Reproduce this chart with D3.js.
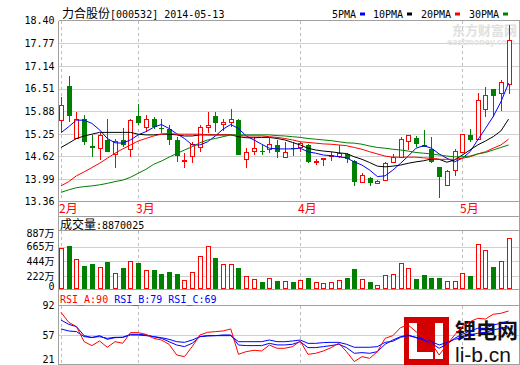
<!DOCTYPE html>
<html>
<head>
<meta charset="utf-8">
<script src="https://cdnjs.cloudflare.com/ajax/libs/d3/7.8.5/d3.min.js"></script>
<style>
  body { margin: 0; background: #fff; }
  svg { display: block; font-family: "DejaVu Sans Mono", "Noto Sans CJK SC", monospace; font-size: 10px; }
  .cjk { font-family: "Noto Sans CJK SC", sans-serif; font-size: 12px; }
</style>
</head>
<body>
<svg id="chart" width="520" height="365"></svg>
<script>
// 力合股份 [000532] daily K-line, 2014-02-17 .. 2014-05-13
const openPx  = [15.63,16.58,15.12,15.65,14.91,14.85,15.08,14.68,15.08,14.82, 15.75,15.43,15.65,15.42,15.38,15.08,14.47,14.63,14.87,15.44,
                 15.75,15.52,15.56,15.63,14.54,14.77,14.78,14.80,14.94,14.58, 14.86,14.87,14.94,14.46,14.54,14.61,14.63,14.68,14.49,13.89,
                 14.03,13.87,13.96,14.46,14.58,15.05,15.12,14.94,14.82,14.32, 13.82,14.24,14.72,15.22,15.10,15.93,16.50,16.38,16.61];
const highPx  = [16.28,16.86,15.87,15.77,15.22,15.26,15.65,15.10,15.40,15.65, 16.08,15.77,15.71,15.65,15.50,15.16,14.72,15.03,15.50,15.87,
                 15.87,15.65,15.94,15.65,14.85,15.15,14.94,15.12,15.08,15.03, 15.03,15.02,14.96,14.54,14.58,14.75,14.94,14.72,14.52,14.15,
                 14.05,13.96,14.46,14.69,15.15,15.22,15.18,15.36,15.15,14.32, 14.24,14.83,15.25,15.38,16.38,16.54,16.50,16.75,18.28];
const lowPx   = [15.31,15.59,15.10,14.94,14.61,14.52,14.75,14.29,14.89,14.60, 15.50,15.31,15.38,15.26,14.94,14.47,14.29,14.43,14.75,15.28,
                 15.31,15.34,15.43,14.66,14.29,14.66,14.66,14.71,14.58,14.57, 14.63,14.75,14.45,14.38,14.35,14.49,14.57,14.45,13.81,13.87,
                 13.81,13.84,13.95,14.45,14.57,14.80,14.89,14.88,14.45,13.47, 13.80,14.08,14.71,15.03,15.10,15.71,15.73,15.88,16.35];
const closePx = [16.03,15.75,15.65,15.03,14.85,15.19,14.75,15.03,14.94,15.61, 15.56,15.65,15.43,15.38,15.08,14.63,14.52,14.94,15.43,15.47,
                 15.56,15.56,15.65,14.66,14.74,14.85,14.77,14.96,14.75,14.74, 14.85,14.99,14.47,14.48,14.57,14.66,14.71,14.54,13.92,14.08,
                 13.89,13.92,14.43,14.58,15.10,15.19,14.96,14.89,14.47,14.06, 14.21,14.75,15.22,15.08,16.19,16.31,16.31,16.68,17.84];

const ma5  = [15.28,15.45,15.63,15.63,15.54,15.36,15.12,15.00,14.99,15.08, 15.22,15.31,15.43,15.51,15.40,15.25,15.12,14.94,14.94,15.03,
              15.19,15.38,15.51,15.40,15.19,15.08,14.96,14.85,14.83,14.83, 14.83,14.85,14.75,14.71,14.66,14.64,14.61,14.58,14.47,14.38,
              14.24,14.06,14.08,14.24,14.43,14.63,14.85,14.92,14.85,14.69, 14.57,14.47,14.57,14.75,15.08,15.40,15.73,16.14,16.66];
const ma10 = [14.87,14.99,15.12,15.19,15.24,15.29,15.29,15.29,15.29,15.29, 15.24,15.22,15.22,15.24,15.24,15.22,15.19,15.19,15.22,15.22,
              15.22,15.22,15.22,15.17,15.14,15.14,15.15,15.15,15.12,15.08, 15.01,14.94,14.85,14.80,14.77,14.75,14.72,14.70,14.61,14.54,
              14.45,14.35,14.33,14.35,14.38,14.43,14.47,14.50,14.55,14.54, 14.46,14.52,14.66,14.80,14.94,15.05,15.17,15.33,15.66];
const ma20 = [13.80,13.92,14.08,14.19,14.31,14.43,14.57,14.71,14.83,14.94, 15.05,15.12,15.19,15.24,15.26,15.24,15.24,15.24,15.24,15.22,
              15.22,15.22,15.22,15.20,15.19,15.19,15.19,15.17,15.15,15.12, 15.08,15.03,15.01,14.99,14.97,14.96,14.94,14.92,14.87,14.82,
              14.75,14.69,14.63,14.60,14.60,14.60,14.60,14.58,14.57,14.54, 14.54,14.54,14.57,14.61,14.69,14.75,14.85,14.94,15.10];
const ma30 = [13.62,13.69,13.75,13.78,13.80,13.83,13.87,13.92,13.96,14.04, 14.15,14.26,14.40,14.49,14.60,14.70,14.80,14.89,15.00,15.08,
              15.12,15.17,15.22,15.22,15.22,15.22,15.22,15.22,15.20,15.19, 15.17,15.15,15.12,15.10,15.08,15.06,15.03,15.00,14.99,14.96,
              14.91,14.87,14.85,14.82,14.80,14.77,14.73,14.71,14.69,14.66, 14.63,14.61,14.61,14.63,14.69,14.73,14.80,14.87,14.94];

// volume in 万股
const volume = [640,675,473,371,397,352,428,261,341,443, 417,300,306,246,276,246,149,276,518,670,
                493,397,397,341,205,170,129,185,144,144, 129,159,190,124,99,124,159,190,326,170,
                129,83,220,250,402,326,174,235,190,190, 129,129,265,224,690,599,361,447,796];

const rsiA = [84.1,72.1,67.0,49.0,44.3,49.8,42.3,49.0,47.1,59.8, 59.8,57.8,53.0,51.0,45.9,33.1,31.1,43.1,57.0,60.2,
              61.0,61.8,64.2,33.9,37.1,38.7,37.9,45.0,41.1,41.1, 43.1,49.8,33.9,35.1,37.9,41.9,47.1,37.1,25.2,31.1,
              29.1,37.1,53.0,56.2,65.8,68.9,61.0,53.8,47.0,33.1, 45.1,57.0,67.0,72.9,76.9,76.1,81.7,82.9,85.7];
const rsiB = [74.9,69.7,67.0,56.2,53.8,56.2,51.8,53.8,54.2,57.8, 57.8,57.0,55.0,53.0,49.0,45.0,43.1,47.1,55.0,56.2,
              56.2,57.0,57.0,45.0,44.3,44.3,44.3,47.0,45.1,45.1, 45.9,49.0,41.9,41.9,43.1,44.3,45.9,41.9,35.1,35.9,
              35.1,37.1,45.9,51.0,55.0,57.0,53.8,51.0,47.0,41.1, 45.9,53.0,57.8,61.8,65.0,65.0,69.0,70.9,73.7];
const rsiC = [64.2,61.8,61.0,55.0,54.2,55.0,53.0,54.2,54.2,57.0, 57.0,56.2,55.0,53.8,51.8,49.0,48.2,51.0,55.0,55.8,
              56.2,56.2,56.2,49.0,49.0,49.0,49.0,51.0,49.0,49.0, 49.8,51.0,47.0,47.0,47.9,48.2,48.2,45.9,42.3,42.3,
              42.3,43.1,48.2,49.5,54.2,56.2,54.2,52.2,49.0,45.1, 47.9,51.8,53.8,57.0,59.0,60.2,63.0,65.0,67.0];

const priceTicks = [13.36,13.99,14.62,15.25,15.88,16.51,17.14,17.77,18.40];
const volTicks = [0,221.75,443.5,665.25,887];
const volTickLabels = ['0','222万','444万','665万','887万'];
const rsiTicks = [21,57,92];
const monthLabels = ['2月','3月','4月','5月'];
const monthStart = [0,10,31,52];

const maNames = ['5PMA','10PMA','20PMA','30PMA'];
const maColors = ['#0000ff','#000000','#ff0000','#008000'];
const UP = '#ff0000', DOWN = '#008000';

const svg = d3.select('#chart');
const L = 58.5, R = 519.5;
const main = {top: 20.5, bottom: 201.5};
const vol = {top: 216.5, head: 230.5, bottom: 289.5};
const rsi = {head: 305.5, bottom: 364.5};

const n = openPx.length;
const x = d3.scalePoint().domain(d3.range(n)).range([61, 508.6]);
const col = i => Math.round(x(i));
const yP = d3.scaleLinear().domain([13.36, 18.40]).range([201.7, 20.7]);
const yV = d3.scaleLinear().domain([0, 887]).range([290.5, 232]);
const yR = d3.scaleLinear().domain([21, 92]).range([365.1, 305.7]);

// ---- grid
const grid = svg.append('g').attr('stroke', '#cfcfcf').attr('shape-rendering', 'crispEdges');
grid.selectAll('.gp').data(priceTicks.slice(1, -1)).join('line')
  .attr('x1', L).attr('x2', R).attr('y1', d => Math.round(yP(d)) + 0.5).attr('y2', d => Math.round(yP(d)) + 0.5);
grid.selectAll('.gv').data(volTicks.slice(1, -1)).join('line')
  .attr('x1', L).attr('x2', R).attr('y1', d => Math.round(yV(d)) + 0.5).attr('y2', d => Math.round(yV(d)) + 0.5);
grid.append('line').attr('x1', L).attr('x2', R).attr('y1', Math.round(yR(57)) + 0.5).attr('y2', Math.round(yR(57)) + 0.5);

// month separators
const dash = svg.append('g').attr('stroke', '#bdbdbd').attr('stroke-dasharray', '3,3').attr('shape-rendering', 'crispEdges');
[[main.top, main.bottom], [vol.head, vol.bottom], [rsi.head, rsi.bottom]].forEach(([a, b]) => {
  dash.selectAll(null).data(monthStart).join('line')
    .attr('x1', d => col(d) + 0.5).attr('x2', d => col(d) + 0.5).attr('y1', a).attr('y2', b);
});

// ---- frames
const frame = svg.append('g').attr('stroke', '#a0a0a0').attr('fill', 'none').attr('shape-rendering', 'crispEdges');
frame.append('line').attr('x1', L).attr('x2', L).attr('y1', main.top).attr('y2', 365);
frame.append('line').attr('x1', R).attr('x2', R).attr('y1', main.top).attr('y2', 365);
[main.top, main.bottom, vol.top, vol.head, vol.bottom, rsi.head, rsi.bottom].forEach(y =>
  frame.append('line').attr('x1', L).attr('x2', R).attr('y1', y).attr('y2', y));

// ---- axes labels
const axP = svg.append('g').attr('transform', `translate(${L},0)`)
  .call(d3.axisLeft(yP).tickValues(priceTicks).tickFormat(d3.format('.2f')).tickSize(0).tickPadding(4));
axP.select('.domain').remove();
const axV = svg.append('g').attr('transform', `translate(${L},0)`)
  .call(d3.axisLeft(yV).tickValues(volTicks).tickFormat((d, i) => volTickLabels[i]).tickSize(0).tickPadding(4));
axV.select('.domain').remove();
axV.selectAll('.tick').filter(d => d === 0).attr('transform', 'translate(0,286.5)');
axV.selectAll('.tick').filter(d => d === 887).attr('transform', 'translate(0,233.5)');
const axR = svg.append('g').attr('transform', `translate(${L},0)`)
  .call(d3.axisLeft(yR).tickValues(rsiTicks).tickSize(0).tickPadding(4));
axR.select('.domain').remove();
axR.selectAll('.tick').filter(d => d === 21).attr('transform', 'translate(0,359.5)');
svg.selectAll('.tick text').attr('fill', '#000');
[axP, axV, axR].forEach(a => a.attr('font-family', null).attr('font-size', null));

// month labels
svg.selectAll('.month').data(monthStart).join('text')
  .attr('x', d => col(d) - 2).attr('y', 213)
  .attr('fill', '#ff0000').attr('class', 'cjk')
  .text((d, i) => monthLabels[i]);

// ---- title + legend
const title = svg.append('text').attr('x', 62).attr('y', 18);
title.append('tspan').attr('class', 'cjk').text('力合股份');
title.append('tspan').text('[000532] 2014-05-13');

const legX = [332, 373, 421, 469];
maNames.forEach((m, i) => {
  svg.append('text').attr('x', legX[i]).attr('y', 18).text(m);
  svg.append('rect').attr('x', legX[i] + m.length * 6 + 4).attr('y', 12.5).attr('width', 5).attr('height', 3)
    .attr('fill', maColors[i]);
});

// watermark top right
svg.append('text').attr('x', 452).attr('y', 35).style('font-family', '"Noto Sans CJK SC"').style('font-size', '13px')
  .attr('font-weight', 'bold').attr('fill', '#e0e0e0').text('东方财富网');
svg.append('text').attr('x', 447).attr('y', 45).style('font-family', '"DejaVu Sans"').style('font-size', '8px')
  .attr('textLength', 68).attr('font-weight', 'bold').attr('fill', '#e4e4e4').text('eastmoney.com');

// ---- candles
const cg = svg.append('g').attr('shape-rendering', 'crispEdges');
d3.range(n).forEach(i => {
  const c = col(i);
  const up = closePx[i] >= openPx[i];
  const yT = yP(Math.max(openPx[i], closePx[i]));
  const yB = yP(Math.min(openPx[i], closePx[i]));
  const h = Math.max(yB - yT, 1.5);
  if (up) {
    cg.append('line').attr('x1', c + 0.5).attr('x2', c + 0.5).attr('y1', yP(highPx[i])).attr('y2', yT).attr('stroke', UP);
    cg.append('line').attr('x1', c + 0.5).attr('x2', c + 0.5).attr('y1', yT + h).attr('y2', yP(lowPx[i])).attr('stroke', UP);
    cg.append('rect').attr('x', c - 1.5).attr('y', yT).attr('width', 4).attr('height', h)
      .attr('fill', '#fff').attr('stroke', UP);
  } else {
    cg.append('line').attr('x1', c + 0.5).attr('x2', c + 0.5).attr('y1', yP(highPx[i])).attr('y2', yP(lowPx[i])).attr('stroke', DOWN);
    cg.append('rect').attr('x', c - 2).attr('y', yT).attr('width', 5).attr('height', h).attr('fill', DOWN);
  }
});

// moving averages
const lineP = d3.line().x((d, i) => x(i)).y(d => yP(d));
[ma5, ma10, ma20, ma30].forEach((s, k) => {
  svg.append('path').datum(s).attr('d', lineP).attr('fill', 'none').attr('stroke', maColors[k]).attr('stroke-width', 1);
});

// ---- volume
svg.append('text').attr('x', 60).attr('y', 229)
  .call(t => { t.append('tspan').attr('class', 'cjk').text('成交量'); t.append('tspan').text(':8870025'); });
const vg = svg.append('g').attr('shape-rendering', 'crispEdges');
d3.range(n).forEach(i => {
  const c = col(i);
  const top = yV(volume[i]);
  if (closePx[i] >= openPx[i]) {
    vg.append('rect').attr('x', c - 1.5).attr('y', top).attr('width', 4).attr('height', 288.5 - top)
      .attr('fill', '#fff').attr('stroke', UP);
  } else {
    vg.append('rect').attr('x', c - 2).attr('y', top).attr('width', 5).attr('height', 289 - top).attr('fill', DOWN);
  }
});

// ---- RSI
const rsiHead = svg.append('text').attr('x', 60).attr('y', 303);
rsiHead.append('tspan').attr('fill', '#ff0000').text('RSI_A:90');
rsiHead.append('tspan').attr('fill', '#0000ff').attr('dx', 6).text('RSI_B:79');
rsiHead.append('tspan').attr('fill', '#0000ff').attr('dx', 6).text('RSI_C:69');

// li-b.cn logo (red parts only, letters let the lines show through)
const logo = svg.append('g');
logo.append('path').attr('fill', '#d40000').attr('fill-rule', 'evenodd')
  .attr('d', 'M404,317H449V366H404Z M409,323H417V352H433V359H409Z M435,323H443V359H435Z');
logo.append('text').attr('x', 455).attr('y', 338).style('font-family', '"Noto Sans CJK SC"').style('font-size', '21px')
  .attr('font-weight', 'bold').attr('fill', '#111').text('锂电网');
logo.append('text').attr('x', 455).attr('y', 362).style('font-family', '"Liberation Sans", Arial').style('font-size', '21px')
  .attr('fill', '#111').text('li-b.cn');

const lineR = d3.line().x((d, i) => x(i)).y(d => yR(d));
[[rsiC, '#0000ff'], [rsiB, '#0000ff'], [rsiA, '#ff0000']].forEach(([s, c]) => {
  svg.append('path').datum(s).attr('d', lineR).attr('fill', 'none').attr('stroke', c).attr('stroke-width', 1);
});
</script>
</body>
</html>
